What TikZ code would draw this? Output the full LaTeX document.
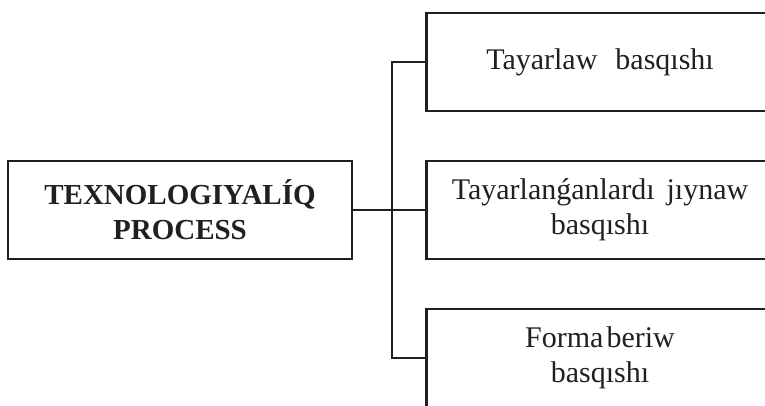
\documentclass[tikz,border=0pt]{standalone}
\usepackage{fontspec}
\setmainfont{Liberation Serif}
\usetikzlibrary{positioning}
\definecolor{diagink}{HTML}{231F20}

\begin{document}
\begin{tikzpicture}[
  x=1pt, y=-1pt,
  stagebox/.style={draw=diagink, line width=2.2pt, minimum width=347pt, minimum height=98pt,
    align=center, text=diagink, font=\fontsize{30}{35}\selectfont},
  mainbox/.style={stagebox, minimum width=344pt, font=\fontsize{29}{35}\selectfont\bfseries},
  link/.style={draw=diagink, line width=2.2pt},
]
\useasboundingbox (0,0) rectangle (765,406);
\clip (0,0) rectangle (765,406);

% geometry
\def\sx{600}    % stage column centre
\def\sy{148}    % vertical pitch of the stages

% ---------- main process ----------
\node[mainbox] (proc) at (180,210) {TEXNOLOGIYALÍQ\\PROCESS};

% ---------- stages (right column, cut by the page edge) ----------
\node[stagebox] (prep) at (\sx,210-\sy) {Tayarlaw\hspace{0.6em}basqıshı};
\node[stagebox] (coll) at (\sx,210) {Tayarlanǵanlardı\hspace{0.4em}jıynaw\\basqıshı};
\node[stagebox] (form) at (\sx,210+\sy) {Forma\hspace{0.1em}beriw\\basqıshı};

% ---------- connectors ----------
\coordinate[right=39pt of proc.east] (spine);
\draw[link] (proc.east) -- (coll.west);
\draw[link] (prep.west) -- (prep.west -| spine) -- (form.west -| spine) -- (form.west);

\end{tikzpicture}
\end{document}
